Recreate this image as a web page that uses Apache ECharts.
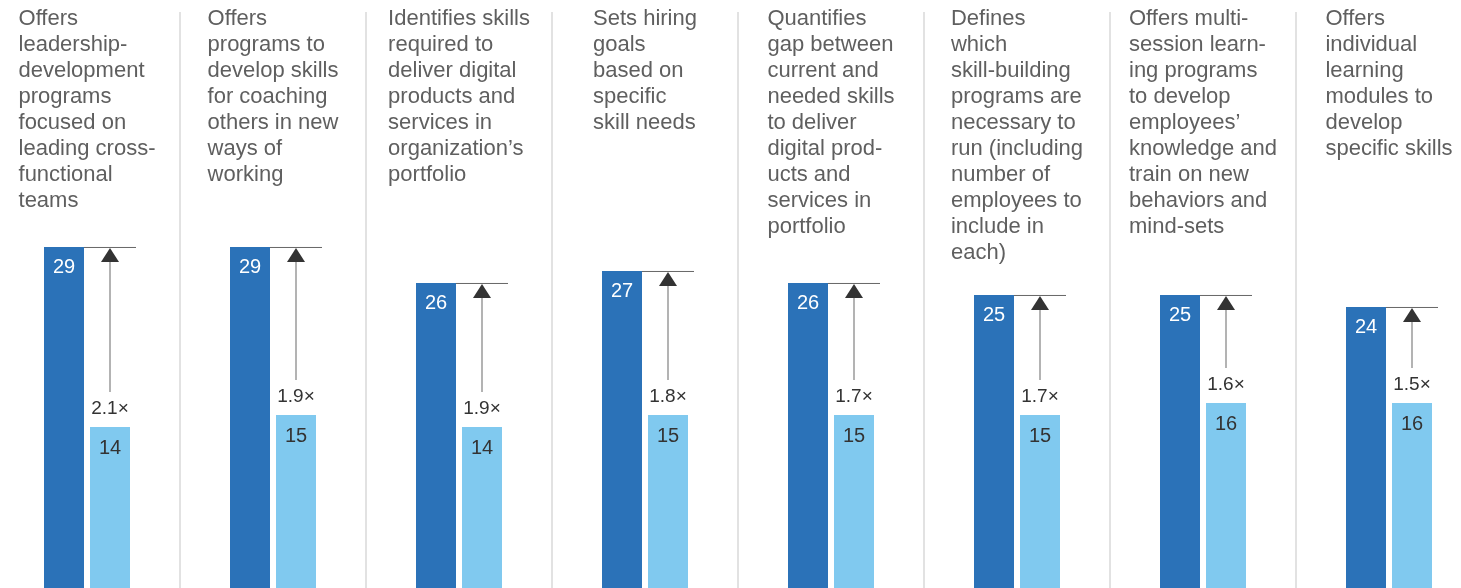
<!DOCTYPE html>
<html><head><meta charset="utf-8">
<script src="https://cdn.jsdelivr.net/npm/echarts@6/dist/echarts.min.js"></script>
<style>html,body{margin:0;padding:0;background:#fff}#c{width:1461px;height:588px}</style>
</head><body><div id="c"></div>
<script>
const categories = [
  "Offers\nleadership-\ndevelopment\nprograms\nfocused on\nleading cross-\nfunctional\nteams",
  "Offers\nprograms to\ndevelop skills\nfor coaching\nothers in new\nways of\nworking",
  "Identifies skills\nrequired to\ndeliver digital\nproducts and\nservices in\norganization’s\nportfolio",
  "Sets hiring\ngoals\nbased on\nspecific\nskill needs",
  "Quantifies\ngap between\ncurrent and\nneeded skills\nto deliver\ndigital prod-\nucts and\nservices in\nportfolio",
  "Defines\nwhich\nskill-building\nprograms are\nnecessary to\nrun (including\nnumber of\nemployees to\ninclude in\neach)",
  "Offers multi-\nsession learn-\ning programs\nto develop\nemployees’\nknowledge and\ntrain on new\nbehaviors and\nmind-sets",
  "Offers\nindividual\nlearning\nmodules to\ndevelop\nspecific skills"
];
const darkValues = [29, 29, 26, 27, 26, 25, 25, 24];
const lightValues = [14, 15, 14, 15, 15, 15, 16, 16];
const multipliers = ["2.1×", "1.9×", "1.9×", "1.8×", "1.7×", "1.7×", "1.6×", "1.5×"];

const FONT = '"Liberation Sans", Arial, Helvetica, sans-serif';
const chart = echarts.init(document.getElementById('c'));

// layout
const gridLeft = -6, catW = 186, n = categories.length;
const titleFont = '22px ' + FONT;
const mc = document.createElement('canvas').getContext('2d');
mc.font = titleFont;
const graphics = categories.map((t, i) => {
  const w = Math.max(...t.split('\n').map(s => mc.measureText(s).width));
  const cx = gridLeft + catW * (i + 0.5);
  return {
    type: 'text', left: cx - w / 2, top: 6, z: 10,
    style: { text: t, font: titleFont, fill: '#5f5f5f', lineHeight: 26, textAlign: 'left' }
  };
});

chart.setOption({
  animation: false,
  grid: { left: gridLeft, width: catW * n, top: 12, bottom: -7, outerBoundsMode: 'none', containLabel: false },
  xAxis: {
    type: 'category', data: categories.map((_, i) => String(i)),
    axisLine: { show: false }, axisTick: { show: false }, axisLabel: { show: false },
    splitLine: { show: true, lineStyle: { color: '#e2e2e2', width: 2 } }
  },
  yAxis: { type: 'value', min: 0, max: 48.58, show: false, splitLine: { show: false } },
  graphic: graphics,
  series: [
    {
      type: 'bar', data: darkValues, barWidth: 40, barGap: '15%',
      itemStyle: { color: '#2b72b8' },
      label: { show: true, position: 'insideTop', distance: 11, color: '#fff',
               fontSize: 20, fontFamily: FONT }
    },
    {
      type: 'bar', data: lightValues, barWidth: 40,
      itemStyle: { color: '#80c9ef' },
      label: { show: true, position: 'insideTop', distance: 11, color: '#333',
               fontSize: 20, fontFamily: FONT }
    },
    {
      type: 'custom', z: 5,
      data: darkValues.map((d, i) => [i, d, lightValues[i]]),
      renderItem: function (params, api) {
        const i = params.dataIndex;
        const pTop = api.coord([i, darkValues[i]]);
        const pL = api.coord([i, lightValues[i]]);
        const cx = pTop[0], yT = pTop[1], yL = pL[1];
        const ax = cx + 23;
        return {
          type: 'group',
          children: [
            { type: 'line', shape: { x1: cx - 3, y1: yT + 0.5, x2: cx + 49, y2: yT + 0.5 },
              style: { stroke: '#666', lineWidth: 1 } },
            { type: 'line', shape: { x1: ax, y1: yT + 14, x2: ax, y2: yL - 35 },
              style: { stroke: '#9a9a9a', lineWidth: 1.5 } },
            { type: 'polygon', shape: { points: [[ax, yT + 1], [ax - 9, yT + 15], [ax + 9, yT + 15]] },
              style: { fill: '#333' } },
            { type: 'text', x: ax, y: yL - 18,
              style: { text: multipliers[i], font: '19px ' + FONT, fill: '#333',
                       textAlign: 'center', textVerticalAlign: 'middle' } }
          ]
        };
      }
    }
  ]
});
</script></body></html>
